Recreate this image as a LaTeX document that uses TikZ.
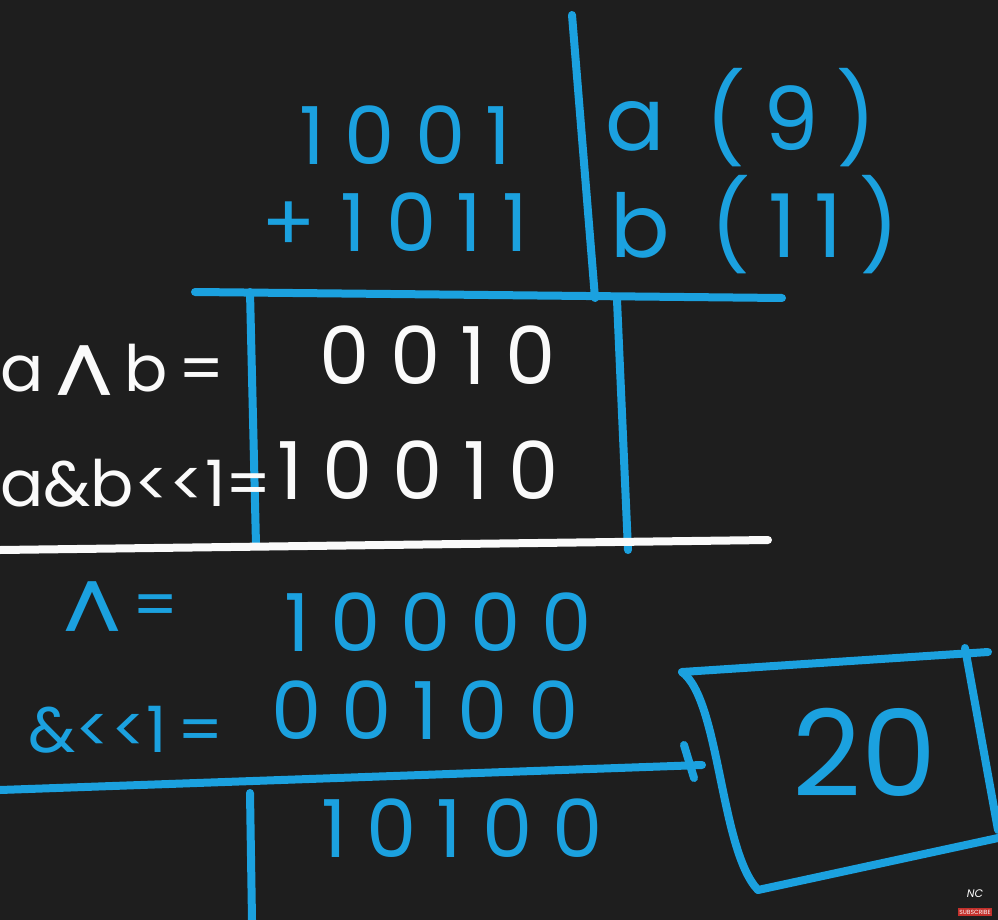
\documentclass[tikz,border=0pt]{standalone}
\usepackage{fontspec}
\setmainfont{Poppins}
\definecolor{bg}{HTML}{1E1E1E}
\definecolor{pen}{HTML}{1BA1DF}
\definecolor{chalk}{HTML}{FAFAFA}
\definecolor{subred}{HTML}{C4302B}
\newcommand{\caret}{\raisebox{-0.32em}{\fontsize{95}{95}\selectfont\char"5E}}
\begin{document}
\begin{tikzpicture}[x=1pt,y=-1pt,
  blueline/.style={draw=pen,line width=8pt,line cap=round,line join=round},
  whiteline/.style={draw=chalk,line width=8pt,line cap=round},
  bluetxt/.style={text=pen,inner sep=0pt,font=\fontsize{80}{80}\selectfont\addfontfeature{LetterSpace=25}},
  whitetxt/.style={text=chalk,inner sep=0pt,font=\fontsize{80}{80}\selectfont\addfontfeature{LetterSpace=25}},
  lbltxt/.style={inner sep=0pt,font=\fontsize{64}{64}\selectfont}]
\fill[bg] (0,0) rectangle (998,920);
\useasboundingbox (0,0) rectangle (998,920);
% top table lines
\coordinate (vt) at (572,15); \coordinate (vb) at (595,298);
\draw[blueline] (vt) -- (vb);
\coordinate (h1) at (195,292); \coordinate (h2) at (782,298);
\draw[blueline] (h1) -- (h2);
% operands
\node[bluetxt] (n1) at (405,135) {1001};
\node[bluetxt,anchor=east] (n2) at (528,222) {+\hspace{25pt}1011};
\node[bluetxt,anchor=west,font=\fontsize{88}{88}\selectfont\addfontfeature{LetterSpace=20}] (la) at (605,118) {a (9)};
\node[bluetxt,anchor=west,font=\fontsize{88}{88}\selectfont\addfontfeature{LetterSpace=20}] (lb) at (610,225) {b (11)};
% result box
\coordinate (bl1) at (250,292); \coordinate (bl2) at (256,545);
\coordinate (br1) at (617,300); \coordinate (br2) at (628,550);
\draw[blueline] (bl1) -- (bl2);
\draw[blueline] (br1) -- (br2);
\node[whitetxt] (r1) at (438,355) {0010};
\node[whitetxt,lbltxt,anchor=west] (l1) at (0,378) {a\,\caret\,b\,=};
\node[whitetxt,lbltxt,anchor=west] (l2) at (0,483) {a\&b{<}{<}1=};
\node[whitetxt] (r2) at (418,470) {10010};
\coordinate (w1) at (0,550); \coordinate (w2) at (768,540);
\draw[whiteline] (w1) -- (w2);
% lower working
\node[bluetxt,lbltxt,anchor=west] (l3) at (62,615) {\caret\,=};
\node[bluetxt] (r3) at (438,622) {10000};
\node[bluetxt,lbltxt,anchor=west] (l4) at (28,730) {\&{<}{<}1\,=};
\node[bluetxt] (r4) at (425,710) {00100};
\coordinate (s1) at (0,790); \coordinate (s2) at (702,765);
\draw[blueline] (s1) -- (s2);
\coordinate (t1) at (684,745); \coordinate (t2) at (694,778);
\draw[blueline] (t1) -- (t2);
\coordinate (v1) at (250,793); \coordinate (v2) at (252,920);
\draw[blueline] (v1) -- (v2);
\node[bluetxt] (r5) at (462,828) {10100};
% answer box
\coordinate (a1) at (682,672); \coordinate (a2) at (988,652);
\coordinate (a3) at (965,648); \coordinate (a4) at (998,830);
\coordinate (a5) at (758,890);
\draw[blueline] (a1) -- (a2);
\draw[blueline] (a3) -- (a4);
\draw[blueline] (a1) .. controls (720,700) and (720,850) .. (a5) -- (998,838);
\node[bluetxt,font=\fontsize{120}{120}\selectfont] (ans) at (865,752) {20};
% watermark
\node[text=chalk,inner sep=0pt,font=\itshape\fontsize{11}{11}\selectfont] (nc) at (975,894) {NC};
\node[fill=subred,text=chalk,inner sep=1.5pt,font=\fontsize{6}{6}\selectfont] (sub) at (975,912) {SUBSCRIBE};
\end{tikzpicture}
\end{document}
